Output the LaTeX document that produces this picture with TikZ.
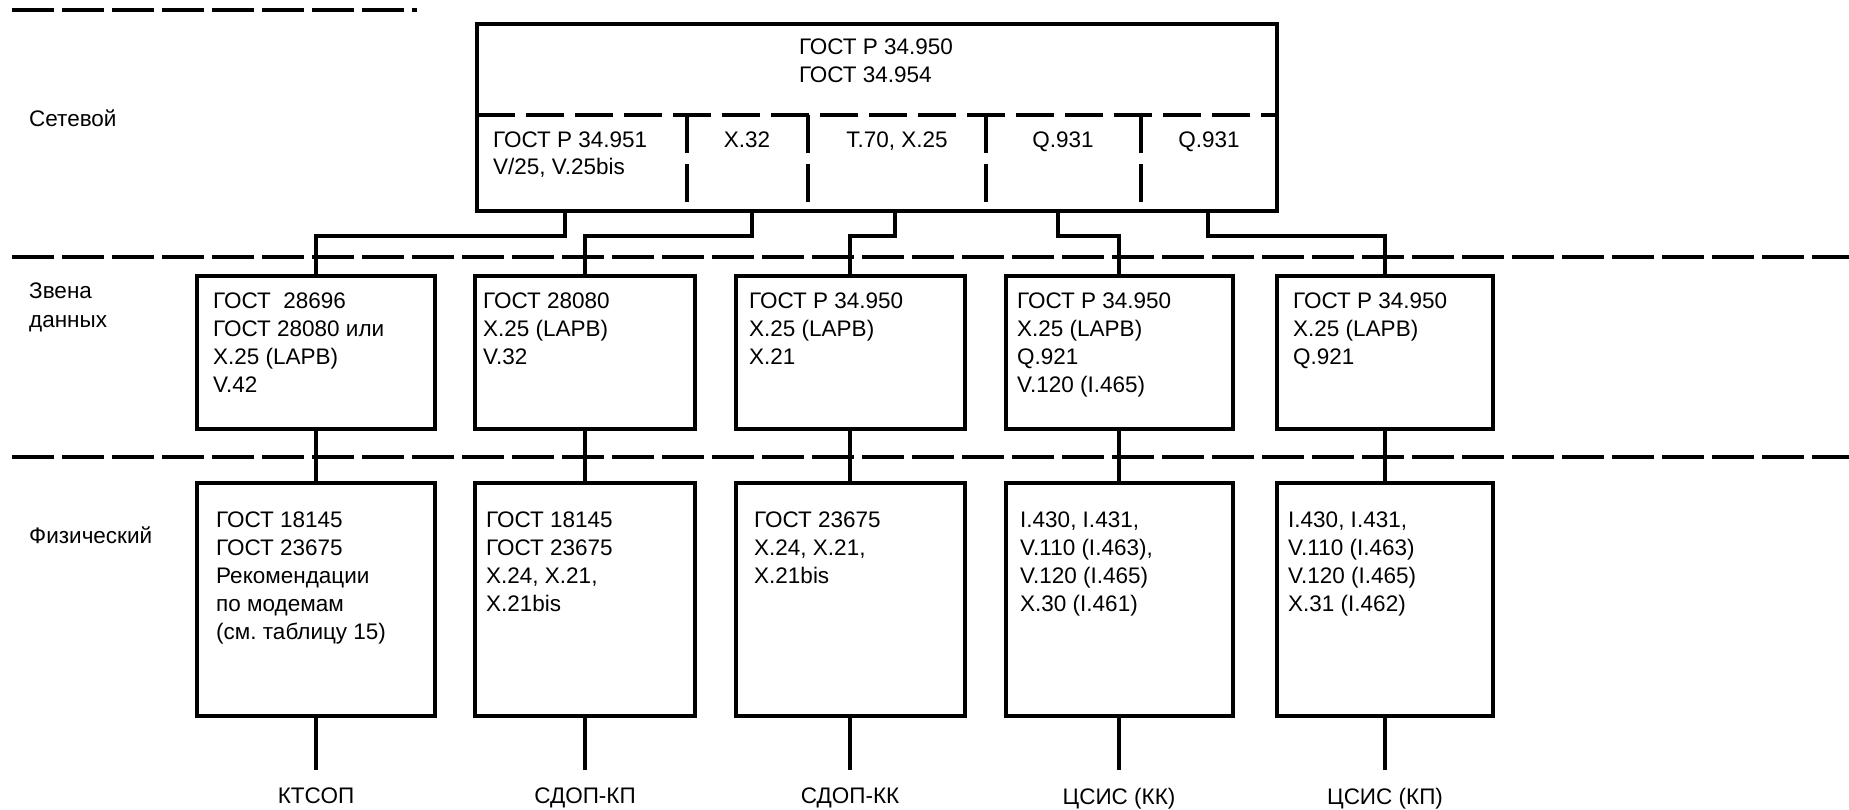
\documentclass[tikz,border=0pt]{standalone}
\usepackage{fontspec}
\setmainfont{Liberation Sans}
\usetikzlibrary{calc}
\frenchspacing
\begin{document}
\begin{tikzpicture}[x=1pt,y=-1pt,
  box/.style={draw, line width=4pt, inner sep=0pt, outer sep=0pt},
  conn/.style={line width=4pt},
  sepline/.style={line width=3.5pt, dash pattern=on 42pt off 8pt},
  cellsep/.style={line width=3.5pt, dash pattern=on 38pt off 11pt},
  txt/.style={font=\fontsize{22.5}{28}\selectfont, align=left, inner sep=0pt, anchor=north west},
  ctxt/.style={font=\fontsize{22.5}{28}\selectfont, align=center, inner sep=0pt, anchor=north}]
\useasboundingbox (0,0) rectangle (1849,810);

% layer separators
\draw[sepline] (12,10) -- (417,10);
\draw[sepline] (12,257) -- (1849,257);
\draw[sepline] (12,457) -- (1849,457);

% layer names
\node[txt] (lnet) at (29,110) {Сетевой};
\node[txt, font=\fontsize{22.5}{29}\selectfont] (llink) at (29,283) {Звена\\данных};
\node[txt] (lphys) at (29,527) {Физический};

% network layer box
\node[box, minimum width=800, minimum height=187] (top) at (877,117.5) {};
\draw[cellsep] (477,115) -- (1277,115);
\draw[cellsep] (687,115) -- (687,211);
\draw[cellsep] (808,115) -- (808,211);
\draw[cellsep] (986,115) -- (986,211);
\draw[cellsep] (1141,115) -- (1141,211);
\node[txt, anchor=north] (ttop) at (876,39) {ГОСТ Р 34.950\\ГОСТ 34.954};
\node[txt, font=\fontsize{22.5}{27}\selectfont] (c1) at (493,132) {ГОСТ Р 34.951\\V/25, V.25bis};
\node[ctxt] (c2) at (747,132) {X.32};
\node[ctxt] (c3) at (897,132) {T.70, X.25};
\node[ctxt] (c4) at (1063,132) {Q.931};
\node[ctxt] (c5) at (1209,132) {Q.931};
\coordinate (t1) at (565,211);
\coordinate (t2) at (752,211);
\coordinate (t3) at (895,211);
\coordinate (t4) at (1058,211);
\coordinate (t5) at (1208,211);

% data link boxes
\node[box, minimum width=238, minimum height=153] (d1) at (316,352.5) {};
\node[box, minimum width=220, minimum height=153] (d2) at (585,352.5) {};
\node[box, minimum width=229, minimum height=153] (d3) at (850,352.5) {};
\node[box, minimum width=227, minimum height=153] (d4) at (1119,352.5) {};
\node[box, minimum width=216, minimum height=153] (d5) at (1385,352.5) {};
\node[txt] (dt1) at (213,293) {ГОСТ \ 28696\\ГОСТ 28080 или\\X.25 (LAPB)\\V.42};
\node[txt] (dt2) at (483,293) {ГОСТ 28080\\X.25 (LAPB)\\V.32};
\node[txt] (dt3) at (749,293) {ГОСТ Р 34.950\\X.25 (LAPB)\\X.21};
\node[txt] (dt4) at (1017,293) {ГОСТ Р 34.950\\X.25 (LAPB)\\Q.921\\V.120 (I.465)};
\node[txt] (dt5) at (1293,293) {ГОСТ Р 34.950\\X.25 (LAPB)\\Q.921};

% physical boxes
\node[box, minimum width=238, minimum height=233] (p1) at (316,599.5) {};
\node[box, minimum width=220, minimum height=233] (p2) at (585,599.5) {};
\node[box, minimum width=229, minimum height=233] (p3) at (850,599.5) {};
\node[box, minimum width=227, minimum height=233] (p4) at (1119,599.5) {};
\node[box, minimum width=216, minimum height=233] (p5) at (1385,599.5) {};
\node[txt] (pt1) at (216,512) {ГОСТ 18145\\ГОСТ 23675\\Рекомендации\\по модемам\\(см. таблицу 15)};
\node[txt] (pt2) at (486,512) {ГОСТ 18145\\ГОСТ 23675\\X.24, X.21,\\X.21bis};
\node[txt] (pt3) at (754,512) {ГОСТ 23675\\X.24, X.21,\\X.21bis};
\node[txt] (pt4) at (1020,512) {I.430, I.431,\\V.110 (I.463),\\V.120 (I.465)\\X.30 (I.461)};
\node[txt] (pt5) at (1288,512) {I.430, I.431,\\V.110 (I.463)\\V.120 (I.465)\\X.31 (I.462)};

% connectors top -> data link
\draw[conn] (t1) -- ++(0,25) -| (d1.north);
\draw[conn] (t2) -- ++(0,25) -| (d2.north);
\draw[conn] (t3) -- ++(0,25) -| (d3.north);
\draw[conn] (t4) -- ++(0,25) -| (d4.north);
\draw[conn] (t5) -- ++(0,25) -| (d5.north);

% data link -> physical
\foreach \i in {1,...,5} {
  \draw[conn] (d\i.south) -- (p\i.north);
}

% stubs and network names
\coordinate (e1) at (316,770);
\coordinate (e2) at (585,770);
\coordinate (e3) at (850,770);
\coordinate (e4) at (1119,770);
\coordinate (e5) at (1385,770);
\foreach \i in {1,...,5} {
  \draw[conn] (p\i.south) -- (e\i);
}
\node[ctxt] (n1) at (316,788) {КТСОП};
\node[ctxt] (n2) at (585,788) {СДОП-КП};
\node[ctxt] (n3) at (850,788) {СДОП-КК};
\node[ctxt] (n4) at (1119,788) {ЦСИС (КК)};
\node[ctxt] (n5) at (1385,788) {ЦСИС (КП)};
\end{tikzpicture}
\end{document}
